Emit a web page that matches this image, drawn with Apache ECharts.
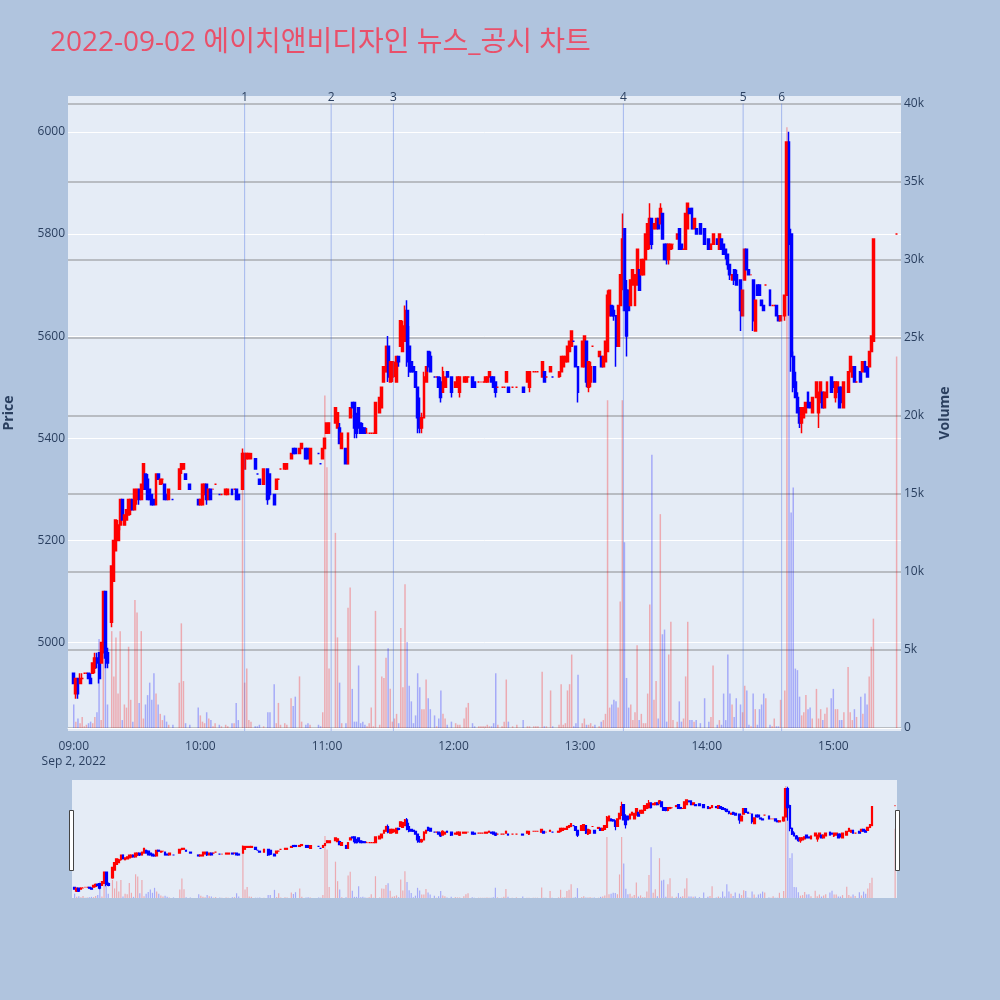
<!DOCTYPE html>
<html>
<head>
<meta charset="utf-8">
<script src="https://cdn.jsdelivr.net/npm/echarts@6/dist/echarts.min.js"></script>
<style>
html,body{margin:0;padding:0;background:#B0C4DE;}
#chart{width:1000px;height:1000px;}
</style>
</head>
<body>
<div id="chart"></div>
<script>
const titleText = '2022-09-02 에이치앤비디자인 뉴스_공시 차트';

// [time, open, close, low, high]
const ohlc = [
['09:00',4940,4920,4920,4940],['09:01',4900,4930,4890,4930],['09:02',4930,4900,4890,4930],['09:03',4920,4930,4920,4940],
['09:04',4930,4930,4930,4940],['09:05',4940,4940,4940,4940],['09:06',4940,4940,4940,4940],['09:07',4940,4930,4930,4940],
['09:08',4930,4920,4920,4940],['09:09',4940,4960,4940,4960],['09:10',4950,4970,4940,4980],['09:11',4970,4960,4950,4980],
['09:12',4980,4930,4920,4980],['09:13',4960,5000,4960,5000],['09:14',4980,5100,4980,5100],['09:15',5100,4970,4950,5100],
['09:16',4980,4960,4950,4990],['09:18',5040,5150,5030,5150],['09:19',5120,5200,5120,5200],['09:20',5180,5240,5180,5240],
['09:21',5200,5230,5200,5240],['09:22',5230,5280,5220,5280],['09:23',5280,5240,5240,5280],['09:24',5230,5250,5230,5250],
['09:25',5240,5260,5240,5260],['09:26',5250,5280,5250,5280],['09:27',5260,5280,5250,5280],['09:28',5280,5260,5260,5280],
['09:29',5260,5300,5260,5300],['09:30',5280,5300,5270,5300],['09:31',5300,5280,5270,5300],['09:32',5280,5310,5280,5310],
['09:33',5300,5350,5300,5350],['09:34',5330,5300,5300,5330],['09:35',5320,5280,5280,5330],['09:36',5300,5280,5280,5300],
['09:37',5290,5270,5270,5290],['09:38',5280,5270,5270,5280],['09:39',5270,5330,5270,5330],['09:40',5330,5320,5320,5330],
['09:41',5310,5320,5310,5320],['09:42',5320,5320,5310,5320],['09:43',5310,5280,5280,5310],['09:44',5290,5280,5280,5290],
['09:45',5280,5300,5280,5300],['09:47',5280,5280,5280,5280],['09:50',5300,5340,5300,5340],['09:51',5340,5350,5330,5350],
['09:52',5340,5350,5340,5350],['09:53',5330,5320,5320,5330],['09:55',5310,5300,5300,5310],['09:59',5280,5270,5270,5280],
['10:00',5270,5280,5270,5280],['10:01',5270,5310,5270,5310],['10:02',5290,5310,5290,5310],['10:03',5310,5280,5270,5310],
['10:04',5280,5300,5280,5300],['10:05',5300,5280,5280,5300],['10:06',5300,5300,5300,5300],['10:07',5310,5310,5310,5310],
['10:09',5290,5290,5290,5290],['10:10',5290,5290,5290,5290],['10:12',5290,5300,5290,5300],['10:13',5290,5300,5290,5300],
['10:15',5300,5290,5290,5300],['10:16',5300,5300,5300,5300],['10:17',5300,5280,5280,5300],['10:18',5290,5280,5280,5290],
['10:20',5300,5370,5300,5380],['10:21',5340,5370,5340,5370],['10:22',5360,5370,5360,5370],['10:23',5360,5370,5360,5370],
['10:24',5360,5370,5360,5370],['10:26',5360,5340,5340,5360],['10:27',5330,5330,5330,5330],['10:28',5320,5310,5310,5320],
['10:30',5310,5340,5310,5340],['10:32',5340,5280,5270,5340],['10:33',5330,5290,5280,5330],['10:35',5290,5270,5270,5290],
['10:36',5300,5320,5300,5320],['10:37',5320,5320,5320,5320],['10:38',5340,5340,5340,5340],['10:40',5340,5350,5340,5350],
['10:41',5340,5350,5340,5350],['10:43',5360,5370,5360,5370],['10:44',5380,5370,5370,5380],['10:45',5380,5370,5370,5380],
['10:47',5370,5380,5370,5380],['10:48',5380,5390,5380,5390],['10:50',5380,5360,5360,5380],['10:51',5380,5360,5360,5380],
['10:52',5350,5380,5350,5380],['10:56',5370,5370,5370,5370],['10:57',5350,5350,5350,5350],['10:58',5360,5380,5360,5380],
['10:59',5380,5400,5380,5400],['11:00',5410,5430,5410,5430],['11:01',5410,5430,5410,5430],['11:04',5430,5460,5430,5460],
['11:05',5420,5450,5420,5450],['11:06',5420,5390,5390,5430],['11:07',5380,5410,5380,5410],['11:09',5380,5350,5350,5380],
['11:10',5350,5410,5350,5410],['11:11',5440,5460,5440,5460],['11:12',5470,5460,5460,5470],['11:13',5470,5420,5400,5470],
['11:14',5440,5410,5400,5450],['11:15',5460,5420,5420,5460],['11:16',5430,5410,5410,5430],['11:17',5420,5410,5410,5430],
['11:18',5420,5410,5410,5420],['11:19',5410,5410,5410,5420],['11:20',5410,5410,5410,5410],['11:21',5410,5410,5410,5410],
['11:22',5410,5410,5410,5410],['11:23',5410,5470,5410,5470],['11:25',5450,5480,5450,5480],['11:26',5460,5500,5460,5500],
['11:27',5510,5540,5510,5540],['11:28',5530,5580,5530,5580],['11:29',5580,5520,5510,5600],['11:30',5510,5550,5510,5550],
['11:31',5520,5550,5510,5550],['11:32',5530,5540,5520,5550],['11:33',5510,5560,5510,5560],['11:34',5560,5550,5540,5560],
['11:35',5580,5630,5580,5630],['11:36',5570,5620,5570,5630],['11:37',5590,5650,5590,5660],['11:38',5650,5550,5540,5670],
['11:39',5580,5530,5520,5620],['11:40',5550,5530,5530,5550],['11:41',5540,5530,5530,5540],['11:42',5530,5500,5500,5530],
['11:43',5500,5440,5410,5500],['11:44',5440,5420,5410,5480],['11:45',5420,5440,5410,5450],['11:46',5440,5520,5440,5530],
['11:47',5510,5540,5510,5540],['11:48',5570,5540,5530,5570],['11:49',5560,5530,5530,5570],['11:51',5520,5520,5520,5520],
['11:52',5520,5520,5520,5520],['11:53',5520,5500,5500,5520],['11:54',5510,5480,5470,5520],['11:55',5490,5530,5490,5540],
['11:56',5500,5520,5500,5520],['11:57',5530,5520,5520,5530],['11:59',5520,5490,5480,5520],['12:01',5500,5510,5500,5510],
['12:02',5500,5520,5500,5520],['12:03',5490,5520,5480,5520],['12:05',5510,5520,5510,5520],['12:06',5510,5520,5510,5520],
['12:07',5520,5520,5520,5520],['12:09',5520,5500,5500,5520],['12:10',5510,5500,5500,5510],['12:12',5510,5510,5510,5510],
['12:13',5510,5510,5510,5510],['12:14',5510,5510,5510,5510],['12:15',5510,5520,5510,5520],['12:16',5510,5520,5510,5520],
['12:17',5520,5530,5520,5530],['12:18',5520,5510,5510,5520],['12:19',5520,5500,5500,5520],['12:20',5510,5490,5480,5510],
['12:21',5500,5500,5500,5500],['12:23',5500,5500,5500,5500],['12:24',5500,5500,5500,5500],['12:25',5510,5530,5510,5530],
['12:26',5500,5490,5490,5500],['12:28',5500,5500,5500,5500],['12:30',5500,5500,5500,5500],['12:33',5500,5490,5490,5500],
['12:35',5510,5530,5510,5530],['12:36',5500,5530,5490,5530],['12:38',5530,5530,5530,5530],['12:39',5530,5530,5530,5530],
['12:40',5530,5530,5530,5530],['12:42',5520,5550,5520,5550],['12:43',5530,5510,5510,5530],['12:44',5520,5520,5520,5520],
['12:46',5530,5540,5530,5540],['12:47',5520,5520,5520,5520],['12:50',5520,5530,5520,5530],['12:51',5530,5560,5520,5560],
['12:52',5540,5560,5540,5560],['12:53',5550,5560,5550,5560],['12:54',5550,5580,5550,5580],['12:55',5570,5590,5570,5590],
['12:56',5580,5610,5580,5610],['12:57',5590,5590,5590,5590],['12:58',5580,5540,5540,5580],['12:59',5540,5490,5470,5540],
['13:01',5540,5590,5540,5590],['13:02',5540,5600,5540,5600],['13:03',5590,5510,5500,5590],['13:04',5500,5550,5490,5550],
['13:05',5510,5540,5500,5550],['13:06',5580,5580,5580,5580],['13:07',5540,5510,5510,5540],['13:09',5560,5570,5560,5570],
['13:10',5560,5540,5540,5560],['13:11',5540,5560,5540,5560],['13:12',5550,5590,5550,5590],['13:13',5570,5680,5570,5690],
['13:14',5640,5690,5640,5690],['13:15',5660,5640,5640,5660],['13:16',5650,5640,5630,5660],['13:17',5640,5580,5540,5640],
['13:18',5580,5660,5580,5660],['13:19',5660,5720,5660,5720],['13:20',5700,5790,5690,5840],['13:21',5810,5650,5650,5810],
['13:22',5690,5600,5560,5710],['13:23',5690,5650,5650,5690],['13:24',5660,5710,5660,5710],['13:25',5700,5730,5700,5730],
['13:26',5660,5720,5660,5720],['13:27',5700,5770,5700,5770],['13:28',5730,5690,5690,5730],['13:29',5720,5750,5720,5750],
['13:30',5720,5750,5720,5750],['13:31',5750,5800,5750,5800],['13:32',5770,5820,5770,5820],['13:33',5780,5830,5770,5860],
['13:34',5830,5780,5770,5830],['13:35',5810,5820,5810,5820],['13:36',5810,5830,5810,5830],['13:37',5830,5810,5810,5830],
['13:38',5820,5850,5820,5860],['13:39',5840,5790,5790,5840],['13:40',5780,5750,5750,5780],['13:41',5780,5750,5740,5780],
['13:42',5750,5780,5740,5780],['13:43',5770,5780,5770,5780],['13:44',5780,5780,5770,5780],['13:46',5790,5800,5790,5800],
['13:47',5810,5770,5770,5810],['13:48',5780,5770,5770,5780],['13:49',5770,5770,5770,5770],['13:50',5770,5840,5770,5840],
['13:51',5810,5860,5810,5860],['13:52',5850,5840,5840,5850],['13:53',5850,5810,5810,5850],['13:54',5810,5830,5810,5830],
['13:55',5810,5800,5800,5810],['13:57',5820,5800,5800,5820],['13:59',5810,5780,5780,5810],['14:01',5790,5770,5770,5790],
['14:02',5770,5780,5770,5780],['14:03',5780,5800,5780,5800],['14:05',5790,5780,5780,5790],['14:06',5770,5800,5770,5800],
['14:07',5790,5770,5770,5790],['14:08',5780,5760,5760,5780],['14:09',5770,5760,5750,5770],['14:10',5760,5740,5730,5760],
['14:11',5740,5720,5710,5740],['14:12',5710,5720,5710,5720],['14:13',5730,5710,5700,5730],['14:14',5720,5700,5700,5730],
['14:16',5710,5650,5610,5710],['14:17',5640,5690,5640,5690],['14:18',5710,5770,5710,5770],['14:19',5770,5730,5730,5770],
['14:20',5730,5720,5720,5730],['14:21',5720,5720,5720,5720],['14:22',5710,5630,5610,5710],['14:23',5610,5670,5610,5670],
['14:24',5700,5680,5680,5700],['14:25',5700,5680,5680,5700],['14:26',5670,5660,5660,5670],['14:27',5660,5650,5650,5660],
['14:28',5700,5700,5700,5700],['14:30',5690,5660,5660,5690],['14:31',5660,5660,5660,5660],['14:32',5660,5660,5660,5660],
['14:33',5660,5640,5640,5660],['14:34',5640,5630,5630,5640],['14:35',5630,5640,5630,5640],['14:37',5640,5680,5630,5680],
['14:38',5680,5980,5680,5980],['14:39',5980,5780,5640,6000],['14:40',5800,5560,5530,5810],['14:41',5560,5500,5490,5570],
['14:42',5510,5480,5480,5530],['14:43',5480,5450,5450,5490],['14:44',5460,5430,5420,5460],['14:45',5430,5460,5410,5460],
['14:46',5440,5460,5440,5460],['14:47',5450,5470,5450,5470],['14:48',5490,5460,5460,5490],['14:49',5470,5460,5460,5470],
['14:50',5450,5480,5450,5480],['14:52',5480,5510,5480,5510],['14:53',5450,5490,5420,5490],['14:54',5470,5510,5470,5510],
['14:55',5490,5460,5460,5490],['14:56',5460,5490,5460,5490],['14:57',5480,5510,5480,5510],['14:59',5520,5490,5490,5520],
['15:00',5510,5500,5500,5510],['15:01',5480,5510,5470,5510],['15:02',5490,5510,5490,5510],['15:03',5500,5460,5460,5500],
['15:04',5500,5470,5470,5500],['15:05',5460,5510,5460,5510],['15:07',5490,5530,5490,5530],['15:08',5530,5560,5530,5560],
['15:09',5520,5540,5520,5540],['15:10',5540,5510,5510,5540],['15:11',5510,5510,5510,5510],['15:13',5530,5510,5510,5530],
['15:14',5530,5550,5530,5550],['15:15',5550,5530,5530,5550],['15:16',5540,5520,5520,5540],['15:17',5540,5570,5540,5570],
['15:18',5570,5600,5570,5600],['15:19',5590,5790,5590,5790],['15:30',5800,5800,5800,5800]
];

// [time, volume]
const volume = [
['09:00',1500],['09:01',400],['09:02',600],['09:03',300],['09:04',700],['09:05',100],['09:06',200],['09:07',300],
['09:08',400],['09:09',300],['09:10',700],['09:11',1000],['09:12',5700],['09:13',500],['09:14',4800],['09:15',8700],
['09:16',1500],['09:18',6200],['09:19',3300],['09:20',5800],['09:21',2200],['09:22',6200],['09:23',500],['09:24',1500],
['09:25',1300],['09:26',5200],['09:27',1800],['09:28',400],['09:29',8200],['09:30',7400],['09:31',1600],['09:32',6200],
['09:33',600],['09:34',1500],['09:35',2100],['09:36',2900],['09:37',1800],['09:38',3500],['09:39',2200],['09:40',1500],
['09:41',900],['09:42',500],['09:43',800],['09:44',400],['09:45',200],['09:47',200],['09:50',2900],['09:51',6700],
['09:52',3000],['09:53',300],['09:55',200],['09:59',1300],
['10:00',800],['10:01',400],['10:02',300],['10:03',1000],['10:04',600],['10:05',500],['10:06',100],['10:07',300],
['10:09',200],['10:10',100],['10:12',200],['10:13',100],['10:15',300],['10:16',300],['10:17',1600],['10:18',500],
['10:20',17000],['10:21',2900],['10:22',3800],['10:23',500],['10:24',400],['10:26',100],['10:27',100],['10:28',200],
['10:30',100],['10:32',1000],['10:33',1000],['10:35',2800],['10:36',300],['10:37',1600],['10:38',200],['10:40',300],
['10:41',200],['10:43',1900],['10:44',1400],['10:45',2000],['10:47',3300],['10:48',400],['10:50',200],['10:51',300],
['10:52',200],['10:56',200],['10:57',100],['10:58',1000],['10:59',21300],
['11:00',16700],['11:01',3800],['11:04',12500],['11:05',5800],['11:06',2900],['11:07',300],['11:09',300],['11:10',7700],
['11:11',9000],['11:12',2500],['11:13',400],['11:14',400],['11:15',4000],['11:16',300],['11:17',400],['11:18',200],
['11:19',100],['11:20',300],['11:21',1300],['11:22',100],['11:23',7500],['11:25',200],['11:26',3300],['11:27',3200],
['11:28',4500],['11:29',5100],['11:30',2500],['11:31',400],['11:32',600],['11:33',900],['11:34',300],['11:35',6400],
['11:36',2600],['11:37',9200],['11:38',5500],['11:39',2700],['11:40',1700],['11:41',300],['11:42',800],['11:43',3500],
['11:44',2600],['11:45',1200],['11:46',1200],['11:47',3100],['11:48',1900],['11:49',1200],['11:51',800],['11:52',100],
['11:53',600],['11:54',2400],['11:55',900],['11:56',600],['11:57',200],['11:59',400],
['12:01',300],['12:02',200],['12:03',200],['12:05',600],['12:06',1300],['12:07',1600],['12:09',300],['12:10',100],
['12:12',100],['12:13',100],['12:14',100],['12:15',100],['12:16',200],['12:17',100],['12:18',100],['12:19',300],
['12:20',3500],['12:21',200],['12:23',100],['12:24',400],['12:25',3100],['12:26',400],['12:28',100],['12:30',200],
['12:33',500],['12:35',100],['12:36',100],['12:38',100],['12:39',100],['12:40',100],['12:42',3600],['12:43',100],
['12:44',100],['12:46',2400],['12:47',100],['12:50',200],['12:51',2800],['12:52',200],['12:53',300],['12:54',2400],
['12:55',2800],['12:56',4700],['12:57',100],['12:58',300],['12:59',3400],
['13:01',300],['13:02',600],['13:03',200],['13:04',200],['13:05',300],['13:06',100],['13:07',200],['13:09',100],
['13:10',400],['13:11',500],['13:12',900],['13:13',21000],['13:14',1300],['13:15',1500],['13:16',1800],['13:17',1700],
['13:18',1300],['13:19',8100],['13:20',21000],['13:21',11900],['13:22',3200],['13:23',1300],['13:24',1500],['13:25',500],
['13:26',1000],['13:27',5300],['13:28',500],['13:29',900],['13:30',300],['13:31',300],['13:32',2200],['13:33',7900],
['13:34',17500],['13:35',1800],['13:36',3000],['13:37',600],['13:38',13700],['13:39',6000],['13:40',6300],['13:41',400],
['13:42',4700],['13:43',6800],['13:44',500],['13:46',400],['13:47',1700],['13:48',400],['13:49',600],['13:50',3300],
['13:51',6800],['13:52',500],['13:53',500],['13:54',400],['13:55',500],['13:57',300],['13:59',1900],
['14:01',400],['14:02',700],['14:03',4000],['14:05',200],['14:06',500],['14:07',200],['14:08',2200],['14:09',500],
['14:10',4700],['14:11',2200],['14:12',1500],['14:13',700],['14:14',1900],['14:16',1500],['14:17',1000],['14:18',2700],
['14:19',2400],['14:20',200],['14:21',100],['14:22',2200],['14:23',1200],['14:24',200],['14:25',1200],['14:26',1500],
['14:27',2200],['14:28',1900],['14:30',200],['14:31',100],['14:32',600],['14:33',100],['14:34',100],['14:35',1800],
['14:37',2400],['14:38',38500],['14:39',37000],['14:40',13800],['14:41',15400],['14:42',3800],['14:43',3700],['14:44',2000],
['14:45',800],['14:46',1000],['14:47',2100],['14:48',1200],['14:49',1300],['14:50',600],['14:52',2500],['14:53',600],
['14:54',1200],['14:55',500],['14:56',900],['14:57',1300],['14:59',1900],
['15:00',2500],['15:01',1200],['15:02',1200],['15:03',500],['15:04',500],['15:05',1000],['15:07',3900],['15:08',1000],
['15:09',500],['15:10',1200],['15:11',700],['15:13',2000],['15:14',900],['15:15',2200],['15:16',1500],['15:17',3300],
['15:18',5200],['15:19',7000],['15:30',23800]
];

const newsTimes = ['10:21:00','11:02:00','11:31:30','13:20:30','14:17:15','14:35:30'];
const newsLabels = ['1','2','3','4','5','6'];
const firstTickExtra = 'Sep 2, 2022';

function ts(t){
  const p = t.split(':').map(Number);
  return new Date(2022, 8, 2, p[0], p[1], p[2] || 0).getTime();
}
function pad(n){ return (n < 10 ? '0' : '') + n; }

const UP = '#ff0000', DOWN = '#0000ff';
const UP_V = 'rgba(255,0,0,0.28)', DOWN_V = 'rgba(0,0,255,0.28)';

const candleData = ohlc.map(r => [ts(r[0]), r[1], r[2], r[3], r[4]]);
const isUp = {};
ohlc.forEach((r, i) => {
  let up;
  if (r[2] > r[1]) up = true;
  else if (r[2] < r[1]) up = false;
  else up = i > 0 ? ohlc[i - 1][2] <= r[2] : true;
  isUp[r[0]] = up;
});
const volData = volume.map(v => ({
  value: [ts(v[0]), v[1]],
  itemStyle: { color: isUp[v[0]] === false ? DOWN_V : UP_V }
}));
const newsData = newsTimes.map(t => [ts(t), 6055]);

const FONT = "'Open Sans', 'Noto Sans', sans-serif";
const TXT = '#2a3f5f';

const mainXMin = new Date(2022, 8, 2, 8, 57, 38).getTime();
const mainXMax = new Date(2022, 8, 2, 15, 31, 43).getTime();
const sliderXMin = new Date(2022, 8, 2, 8, 59, 3).getTime();
const sliderXMax = new Date(2022, 8, 2, 15, 30, 36).getTime();

const chart = echarts.init(document.getElementById('chart'), null, { renderer: 'canvas' });
chart.setOption({
  backgroundColor: '#B0C4DE',
  animation: false,
  title: {
    text: titleText, left: 50, top: 29, padding: 0,
    textStyle: { color: '#E9506A', fontSize: 28, fontWeight: 'normal', fontFamily: "'Open Sans', 'Noto Sans CJK KR', sans-serif" }
  },
  grid: [
    { left: 68, top: 96, width: 833, height: 635, show: true, backgroundColor: '#E5ECF6', borderWidth: 0, outerBoundsMode: 'none' },
    { left: 72, top: 780, width: 825, height: 118, show: true, backgroundColor: '#E5ECF6', borderWidth: 0, outerBoundsMode: 'none' }
  ],
  xAxis: [
    {
      type: 'time', gridIndex: 0, min: mainXMin, max: mainXMax,
      minInterval: 3600000, maxInterval: 3600000,
      axisLine: { show: true, lineStyle: { color: '#ffffff', width: 1 } },
      axisTick: { show: false },
      splitLine: { show: false },
      axisLabel: {
        color: TXT, fontSize: 12, fontFamily: FONT, margin: 8, lineHeight: 15,
        formatter: function (val) {
          const d = new Date(val);
          const s = pad(d.getHours()) + ':' + pad(d.getMinutes());
          return (d.getHours() === 9 && d.getMinutes() === 0) ? s + '\n' + firstTickExtra : s;
        }
      }
    },
    {
      type: 'time', gridIndex: 1, min: sliderXMin, max: sliderXMax, show: false,
      splitLine: { show: false }
    }
  ],
  yAxis: [
    {
      type: 'value', gridIndex: 0, position: 'left', min: 4827, max: 6070, splitNumber: 6,
      axisLine: { show: false }, axisTick: { show: false },
      axisLabel: { color: TXT, fontSize: 12, fontFamily: FONT, margin: 3, showMinLabel: false, showMaxLabel: false,
        formatter: v => String(Math.round(v)) },
      splitLine: { show: true, showMinLine: false, showMaxLine: false, lineStyle: { color: '#ffffff', width: 1 } }
    },
    {
      type: 'value', gridIndex: 0, position: 'right', min: -200, max: 40500, splitNumber: 8,
      axisLine: { show: false }, axisTick: { show: false },
      axisLabel: {
        color: TXT, fontSize: 12, fontFamily: FONT, margin: 3, showMinLabel: false, showMaxLabel: false,
        formatter: v => v === 0 ? '0' : (v / 1000) + 'k'
      },
      splitLine: { show: true, showMinLine: false, showMaxLine: false, lineStyle: { color: '#a9acb1', width: 1.6 } }
    },
    { type: 'value', gridIndex: 1, min: 4827, max: 6070, show: false, splitLine: { show: false } },
    { type: 'value', gridIndex: 1, min: 0, max: 40600, show: false, splitLine: { show: false } }
  ],
  graphic: [
    { type: 'text', x: 9, y: 413, rotation: Math.PI / 2,
      style: { text: 'Price', fill: TXT, font: "bold 14px 'Open Sans', sans-serif", textAlign: 'center', textVerticalAlign: 'middle' } },
    { type: 'text', x: 945, y: 413, rotation: Math.PI / 2,
      style: { text: 'Volume', fill: TXT, font: "bold 14px 'Open Sans', sans-serif", textAlign: 'center', textVerticalAlign: 'middle' } },
    { type: 'rect', shape: { x: 69.5, y: 810.5, width: 4, height: 60 }, style: { fill: '#ffffff', stroke: '#444444', lineWidth: 1 }, z: 100 },
    { type: 'rect', shape: { x: 895.5, y: 810.5, width: 4, height: 60 }, style: { fill: '#ffffff', stroke: '#444444', lineWidth: 1 }, z: 100 }
  ],
  series: [
    {
      name: 'Volume', type: 'bar', xAxisIndex: 0, yAxisIndex: 1, data: volData,
      barWidth: 1.5, z: 1, silent: true
    },
    {
      name: 'Price', type: 'candlestick', xAxisIndex: 0, yAxisIndex: 0, data: candleData,
      encode: { x: 0, y: [1, 2, 3, 4] },
      barWidth: 2.4, large: false, z: 2, silent: true,
      itemStyle: { color: UP, color0: DOWN, borderColor: UP, borderColor0: DOWN, borderWidth: 1.5 }
    },
    {
      name: 'News', type: 'custom', xAxisIndex: 0, yAxisIndex: 0, data: newsData, z: 3, silent: true,
      renderItem: function (params, api) {
        const top = api.coord([api.value(0), api.value(1)]);
        const bottom = api.coord([api.value(0), 4827]);
        return {
          type: 'group',
          children: [
            { type: 'line', shape: { x1: top[0], y1: top[1], x2: bottom[0], y2: bottom[1] },
              style: { stroke: 'rgba(65,105,225,0.4)', lineWidth: 1 } },
            { type: 'text', x: top[0], y: top[1] - 0.5,
              style: { text: newsLabels[params.dataIndex], fill: TXT, font: "12px 'Open Sans', sans-serif", textAlign: 'center', textVerticalAlign: 'bottom' } }
          ]
        };
      }
    },
    {
      name: 'VolumeSlider', type: 'bar', xAxisIndex: 1, yAxisIndex: 3, data: volData,
      barWidth: 1.2, z: 1, silent: true
    },
    {
      name: 'PriceSlider', type: 'candlestick', xAxisIndex: 1, yAxisIndex: 2, data: candleData,
      encode: { x: 0, y: [1, 2, 3, 4] },
      barWidth: 2.2, large: false, z: 2, silent: true,
      itemStyle: { color: UP, color0: DOWN, borderColor: UP, borderColor0: DOWN, borderWidth: 1.2 }
    }
  ]
});
</script>
</body>
</html>
